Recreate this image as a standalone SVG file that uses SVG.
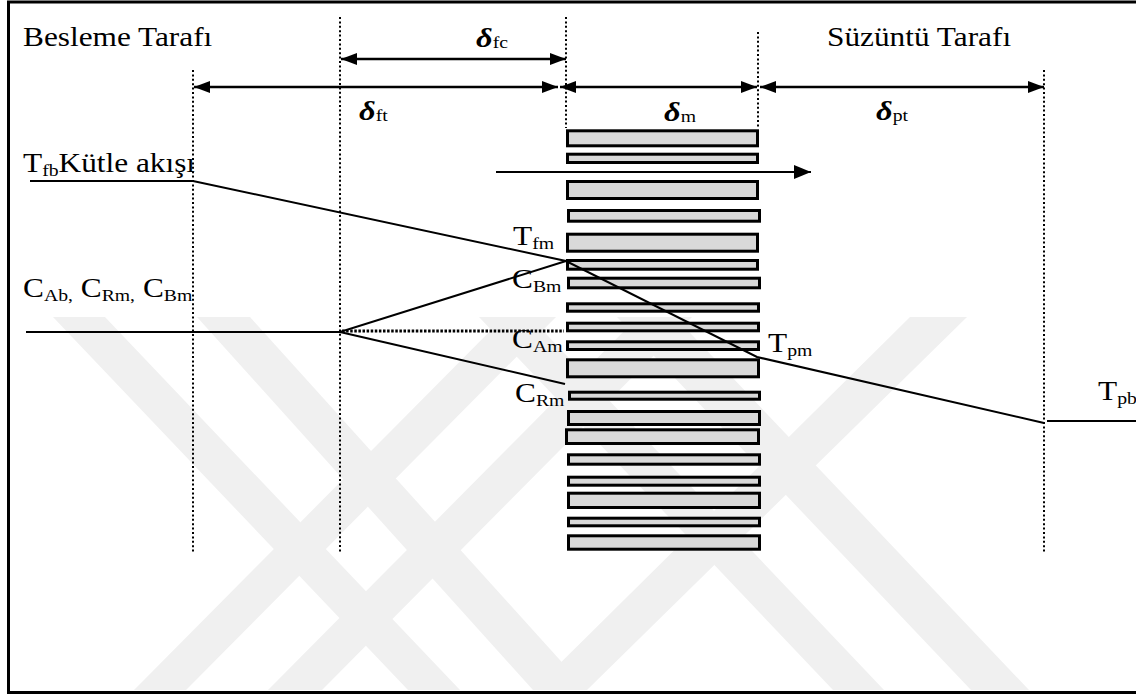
<svg xmlns="http://www.w3.org/2000/svg" width="1136" height="695" viewBox="0 0 1136 695">
  <style>
    .t { font-family: "Liberation Serif", "Times New Roman", serif; font-size: 27px; fill: #000; }
    .sub { font-size: 17px; }
    .d { font-weight: bold; font-style: italic; font-size: 28px; }
    .solid { stroke: #000; stroke-width: 2; fill: none; }
    .dot { stroke: #000; stroke-width: 2; stroke-dasharray: 2 2.4; fill: none; }
    .dotb { stroke: #000; stroke-width: 3; stroke-dasharray: 2.5 1.6; fill: none; }
    .dim { stroke: #000; stroke-width: 2.5; fill: none; marker-start: url(#ah); marker-end: url(#ah); }
    .mem rect { fill: #d9d9d9; stroke: #000; stroke-width: 3; }
    .wm polygon { fill: #f0f0f0; }
  </style>
  <defs>
    <marker id="ah" viewBox="0 0 16 12" refX="16" refY="6" markerWidth="16" markerHeight="12" orient="auto-start-reverse" markerUnits="userSpaceOnUse">
      <path d="M0,0 L16,6 L0,12 z" fill="#000"/>
    </marker>
    <marker id="ahBig" viewBox="0 0 17 14" refX="17" refY="7" markerWidth="17" markerHeight="14" orient="auto" markerUnits="userSpaceOnUse">
      <path d="M0,0 L17,7 L0,14 z" fill="#000"/>
    </marker>
  </defs>

  <rect x="0" y="0" width="1136" height="695" fill="#fff"/>

  <!-- faint background emblem -->
  <g id="emblem" class="wm">
    <polygon points="53,317 105,317 460,690 408,690"/>
    <polygon points="197,317 250,317 587,690 533,690"/>
    <polygon points="134,690 186,690 556,317 504,317"/>
    <polygon points="268,690 322,690 692,317 638,317"/>
    <polygon points="533,690 587,690 967,317 910,317"/>
    <polygon points="833,690 884,690 530,317 479,317"/>
    <polygon points="971,690 1029,690 675,317 617,317"/>
  </g>

  <!-- frame -->
  <rect x="8.5" y="2" width="1140" height="690.5" fill="none" stroke="#000" stroke-width="3"/>

  <!-- boundary layers (dotted verticals) -->
  <g id="boundaries">
    <line class="dot" x1="193" y1="70" x2="193" y2="553"/>
    <line class="dot" x1="340" y1="17" x2="340" y2="553"/>
    <line class="dot" x1="566" y1="17" x2="566" y2="128"/>
    <line class="dot" x1="758" y1="32" x2="758" y2="128"/>
    <line class="dot" x1="1044" y1="70" x2="1044" y2="553"/>
  </g>

  <!-- membrane -->
  <g id="membrane" class="mem">
    <rect x="567.5" y="130.8" width="190" height="15"/>
    <rect x="567.5" y="154.2" width="190" height="8.3"/>
    <rect x="567.5" y="181.5" width="190" height="17"/>
    <rect x="568.5" y="210.5" width="191" height="10.7"/>
    <rect x="567.5" y="234.2" width="190" height="17"/>
    <rect x="567.5" y="260.5" width="190" height="8.7"/>
    <rect x="568.5" y="278.2" width="191" height="9.6"/>
    <rect x="567.5" y="303.8" width="191" height="7.4"/>
    <rect x="567.5" y="323.2" width="191" height="7.6"/>
    <rect x="567.5" y="341.8" width="191" height="7.7"/>
    <rect x="567.5" y="359.8" width="191" height="17"/>
    <rect x="569.5" y="392.2" width="190" height="7"/>
    <rect x="568.5" y="411.5" width="191" height="13"/>
    <rect x="566.5" y="429.8" width="192" height="13.7"/>
    <rect x="568.5" y="454.8" width="191" height="9.4"/>
    <rect x="568.5" y="477.2" width="191" height="8"/>
    <rect x="568.5" y="493.2" width="191" height="14.3"/>
    <rect x="568.5" y="518.2" width="191" height="7.6"/>
    <rect x="568.5" y="535.8" width="191" height="13.4"/>
  </g>

  <!-- connectors: thickness arrows, flux arrow, profiles -->
  <g id="connectors">
    <line class="dim" x1="341" y1="59" x2="566" y2="59"/>
    <line class="dim" x1="194" y1="87" x2="558" y2="87"/>
    <line class="dim" x1="560" y1="87" x2="757" y2="87"/>
    <line class="dim" x1="760" y1="87" x2="1044" y2="87"/>
    <line class="solid" x1="496" y1="172" x2="811" y2="172" marker-end="url(#ahBig)"/>
    <!-- temperature profile -->
    <polyline class="solid" points="30,181 193,181 566,261 757,357 1044,423"/>
    <line class="solid" x1="1047" y1="421" x2="1136" y2="421"/>
    <!-- concentration profiles -->
    <polyline class="solid" points="26,332 340,332 566,261"/>
    <line class="solid" x1="340" y1="332" x2="565" y2="384"/>
    <line class="dotb" x1="342" y1="331" x2="564" y2="331"/>
  </g>

  <!-- labels -->
  <g id="labels">
    <text class="t" transform="translate(23 46) scale(1.16 1)">Besleme Tarafı</text>
    <text class="t" transform="translate(827 46) scale(1.16 1)">Süzüntü Tarafı</text>
    <text class="t" transform="translate(476 47) scale(1.16 1)"><tspan class="d">δ</tspan><tspan class="sub" dy="1">fc</tspan></text>
    <text class="t" transform="translate(359 120) scale(1.16 1)"><tspan class="d">δ</tspan><tspan class="sub" dy="1">ft</tspan></text>
    <text class="t" transform="translate(664 121) scale(1.16 1)"><tspan class="d">δ</tspan><tspan class="sub" dy="1">m</tspan></text>
    <text class="t" transform="translate(876 120) scale(1.16 1)"><tspan class="d">δ</tspan><tspan class="sub" dy="1">pt</tspan></text>
    <text class="t" transform="translate(23 172) scale(1.16 1)">T<tspan class="sub" dy="4">fb</tspan><tspan dy="-4">Kütle akışı</tspan></text>
    <text class="t" transform="translate(513 245) scale(1.16 1)">T<tspan class="sub" dy="4">fm</tspan></text>
    <text class="t" transform="translate(23 297) scale(1.16 1)">C<tspan class="sub" dy="4">Ab,</tspan><tspan dy="-4"> C</tspan><tspan class="sub" dy="4">Rm,</tspan><tspan dy="-4"> C</tspan><tspan class="sub" dy="4">Bm</tspan></text>
    <text class="t" transform="translate(512 288) scale(1.16 1)">C<tspan class="sub" dy="4">Bm</tspan></text>
    <text class="t" transform="translate(512 348) scale(1.16 1)">C<tspan class="sub" dy="4">Am</tspan></text>
    <text class="t" transform="translate(515 402) scale(1.16 1)">C<tspan class="sub" dy="4">Rm</tspan></text>
    <text class="t" transform="translate(768 352) scale(1.16 1)">T<tspan class="sub" dy="4">pm</tspan></text>
    <text class="t" transform="translate(1098 400) scale(1.16 1)">T<tspan class="sub" dy="4">pb</tspan></text>
  </g>
</svg>
